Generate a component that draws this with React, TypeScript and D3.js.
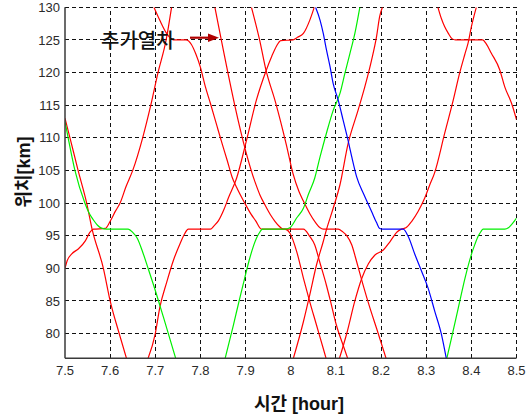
import React, { useEffect, useRef } from "react";
import * as d3 from "d3";

type Pt = [number, number];

// axis ticks
const hourTicks = [7.5, 7.6, 7.7, 7.8, 7.9, 8.0, 8.1, 8.2, 8.3, 8.4, 8.5];
const kmTicks = [80, 85, 90, 95, 100, 105, 110, 115, 120, 125, 130];

// train runs: [hour, km]
const trainA: Pt[] = [[7.5, 113], [7.511, 110], [7.529, 105], [7.548, 100], [7.56, 96], [7.585, 90], [7.6, 85], [7.62, 80], [7.637, 76]];
const trainB: Pt[] = [[7.5, 90], [7.505, 91.2], [7.515, 92.2], [7.53, 93], [7.545, 94.2], [7.555, 95.5], [7.563, 96], [7.589, 96.1], [7.6, 97.2], [7.612, 98.8], [7.622, 100], [7.635, 102.5], [7.65, 105], [7.672, 110], [7.69, 115], [7.706, 120], [7.724, 125], [7.736, 130]];
const trainC: Pt[] = [[7.697, 130], [7.71, 128], [7.725, 126], [7.74, 125], [7.768, 125], [7.78, 124.3], [7.79, 122.8], [7.8, 120.8], [7.811, 117.8], [7.822, 115.3], [7.837, 111.7], [7.848, 109.1], [7.859, 106.6], [7.87, 104], [7.88, 102.4], [7.898, 100], [7.912, 98.3], [7.922, 97.3], [7.935, 96], [7.987, 96], [7.998, 95.4], [8.013, 92.6], [8.028, 88.5], [8.042, 84.9], [8.057, 81.3], [8.072, 77.7], [8.079, 76]];
const trainE: Pt[] = [[7.683, 76], [7.7, 80], [7.71, 84], [7.725, 87.8], [7.74, 91.2], [7.755, 93.8], [7.765, 95.3], [7.773, 96], [7.822, 96], [7.83, 96.5], [7.84, 97.3], [7.852, 99], [7.862, 100.8], [7.88, 103.8], [7.902, 109.6], [7.924, 115.8], [7.946, 120.4], [7.958, 122.5], [7.968, 124], [7.978, 124.9], [8.005, 125], [8.015, 125.4], [8.028, 126], [8.042, 128], [8.052, 130]];
const trainD: Pt[] = [[7.832, 130], [7.921, 103.2], [7.932, 101.2], [7.943, 99.7], [7.955, 98.2], [7.965, 97.2], [7.975, 96.4], [7.983, 96], [8.028, 96], [8.042, 94.9], [8.053, 93.6], [8.064, 91], [8.079, 87.4], [8.09, 84.4], [8.101, 81.3], [8.116, 78.2], [8.127, 76]];
const trainH: Pt[] = [[7.913, 130], [7.931, 125], [7.945, 120.4], [7.966, 115.5], [7.99, 109], [8.005, 104.5], [8.018, 101.8], [8.028, 100.3], [8.042, 98.4], [8.055, 97], [8.065, 96.2], [8.072, 96], [8.105, 96], [8.115, 95.6], [8.124, 95], [8.135, 93.6], [8.146, 91], [8.16, 87.5], [8.175, 84], [8.19, 80.8], [8.212, 76]];
const trainI: Pt[] = [[8.005, 76], [8.028, 81.8], [8.042, 85.9], [8.057, 90.5], [8.072, 94.1], [8.079, 95.9], [8.094, 99.2], [8.109, 102.8], [8.127, 109.1], [8.149, 114.2], [8.164, 117.8], [8.179, 121.9], [8.19, 125.5], [8.197, 128.6], [8.203, 130]];
const trainJ: Pt[] = [[8.107, 76], [8.124, 80], [8.142, 85], [8.157, 88.4], [8.172, 90.7], [8.186, 92], [8.205, 92.8], [8.22, 94.1], [8.236, 95.6], [8.245, 96], [8.255, 96.2], [8.268, 97.2], [8.282, 98.7], [8.297, 100.8], [8.308, 102.8], [8.318, 104.5], [8.341, 110.7], [8.36, 115.8], [8.374, 119.9], [8.386, 122.9], [8.393, 124.6], [8.4, 127], [8.411, 130]];
const trainK: Pt[] = [[8.326, 130], [8.334, 128.2], [8.341, 127], [8.349, 126], [8.357, 125.2], [8.365, 125], [8.425, 125], [8.433, 124.4], [8.444, 123], [8.463, 120.4], [8.474, 117.8], [8.489, 115.3], [8.5, 112.8]];
const greenG1: Pt[] = [[7.5, 112.5], [7.507, 110], [7.522, 105], [7.544, 100], [7.553, 98.5], [7.563, 97.4], [7.572, 96.6], [7.581, 96.15], [7.592, 96], [7.64, 96], [7.65, 95.5], [7.66, 94.6], [7.672, 92.5], [7.684, 90], [7.7, 86.6], [7.718, 82.5], [7.746, 76]];
const greenG2: Pt[] = [[7.854, 76], [7.873, 81.3], [7.887, 85.4], [7.898, 88.5], [7.909, 91.5], [7.924, 94.6], [7.932, 95.6], [7.937, 96], [7.987, 96], [7.998, 96.2], [8.013, 97.7], [8.028, 99.2], [8.039, 101.3], [8.053, 103.8], [8.065, 107.1], [8.079, 110.7], [8.094, 114.2], [8.109, 116.8], [8.12, 119.9], [8.131, 122.9], [8.142, 126], [8.153, 130]];
const greenG3: Pt[] = [[8.345, 76], [8.356, 79.3], [8.371, 83.9], [8.386, 88.5], [8.4, 92.1], [8.408, 93.7], [8.415, 94.9], [8.421, 95.6], [8.426, 96], [8.474, 96], [8.482, 96.2], [8.489, 96.7], [8.5, 97.7]];
const blueL: Pt[] = [[8.055, 130], [8.065, 128], [8.072, 126], [8.079, 123.5], [8.087, 120.9], [8.094, 118.3], [8.105, 115.8], [8.116, 112.7], [8.127, 109.6], [8.135, 107.1], [8.146, 104], [8.162, 101.3], [8.179, 98.7], [8.19, 97], [8.197, 96.1], [8.204, 96], [8.249, 96], [8.26, 94.9], [8.275, 92.1], [8.29, 89.5], [8.304, 87], [8.319, 83.4], [8.334, 79.8], [8.345, 76]];

const redRuns = [trainA, trainB, trainC, trainE, trainD, trainH, trainI, trainJ, trainK];
const greenRuns = [greenG1, greenG2, greenG3];
const blueRuns = [blueL];

export default function App() {
  const ref = useRef<SVGSVGElement>(null);

  useEffect(() => {
    if (!ref.current) return;
    const svg = d3.select(ref.current);
    svg.selectAll("*").remove();

    const left = 65, right = 516.5, top = 7.3, bottom = 358.3;
    const x = d3.scaleLinear().domain([7.5, 8.5]).range([left, right]);
    const y = d3.scaleLinear().domain([76.2, 130]).range([bottom, top]);

    svg.append("rect").attr("width", 531).attr("height", 419).attr("fill", "#fff");

    svg.append("clipPath").attr("id", "plot")
      .append("rect").attr("x", left).attr("y", top)
      .attr("width", right - left).attr("height", bottom - top);

    // dashed grid
    const grid = svg.append("g").attr("stroke", "#111").attr("stroke-width", 1)
      .attr("stroke-dasharray", "4,3").attr("shape-rendering", "crispEdges");
    hourTicks.slice(1).forEach((t) => {
      grid.append("line").attr("x1", x(t)).attr("x2", x(t)).attr("y1", bottom).attr("y2", top);
    });
    kmTicks.forEach((k) => {
      grid.append("line").attr("x1", left).attr("x2", right).attr("y1", y(k)).attr("y2", y(k));
    });

    const line = d3.line<Pt>().x((d) => x(d[0])).y((d) => y(d[1])).curve(d3.curveMonotoneX);
    const runs = svg.append("g").attr("clip-path", "url(#plot)").attr("fill", "none").attr("stroke-width", 1.2);
    const draw = (list: Pt[][], color: string) =>
      list.forEach((pts) => runs.append("path").attr("d", line(pts)).attr("stroke", color));
    draw(redRuns, "#ff0000");
    draw(greenRuns, "#00f000");
    draw(blueRuns, "#0000ff");

    // axes
    const axisStroke = "#3a3a3a";
    svg.append("line").attr("x1", left).attr("x2", left).attr("y1", top).attr("y2", bottom)
      .attr("stroke", axisStroke).attr("stroke-width", 1.5);
    svg.append("line").attr("x1", left).attr("x2", right).attr("y1", bottom).attr("y2", bottom)
      .attr("stroke", axisStroke).attr("stroke-width", 1.5);

    const tickFont = "'Liberation Sans', Arial, sans-serif";
    svg.append("g").selectAll("text").data(kmTicks).enter().append("text")
      .attr("x", left - 5).attr("y", (d) => y(d)).attr("dy", "0.36em")
      .attr("text-anchor", "end").attr("font-family", tickFont).attr("font-size", 13)
      .attr("fill", "#2a2a2a").text((d) => String(d));
    svg.append("g").selectAll("text").data(hourTicks).enter().append("text")
      .attr("x", (d) => x(d)).attr("y", 375).attr("text-anchor", "middle")
      .attr("font-family", tickFont).attr("font-size", 13).attr("fill", "#2a2a2a")
      .text((d) => String(+d.toFixed(1)));

    const labelFont = "'Liberation Sans', 'Noto Sans CJK KR', sans-serif";
    svg.append("text").attr("x", 299).attr("y", 410).attr("text-anchor", "middle")
      .attr("font-family", labelFont).attr("font-weight", "bold").attr("font-size", 18)
      .attr("fill", "#111").text("시간 [hour]");
    svg.append("text").attr("transform", "translate(30,172) rotate(-90)").attr("text-anchor", "middle")
      .attr("font-family", labelFont).attr("font-weight", "bold").attr("font-size", 18)
      .attr("fill", "#111").text("위치[km]");

    // annotation
    svg.append("text").attr("x", 101).attr("y", 48)
      .attr("font-family", "'Noto Sans CJK KR', sans-serif").attr("font-size", 20)
      .attr("font-weight", 500).attr("fill", "#111").text("추가열차");
    svg.append("line").attr("x1", 190).attr("x2", 211).attr("y1", 37.7).attr("y2", 37.7)
      .attr("stroke", "#b00000").attr("stroke-width", 2.2);
    svg.append("path").attr("d", "M208,33.5 L219,37.7 L208,41.9 Z").attr("fill", "#b00000");
  }, []);

  return (
    <svg ref={ref} width={531} height={419}
      style={{ position: "absolute", left: 0, top: 0, display: "block" }} />
  );
}
